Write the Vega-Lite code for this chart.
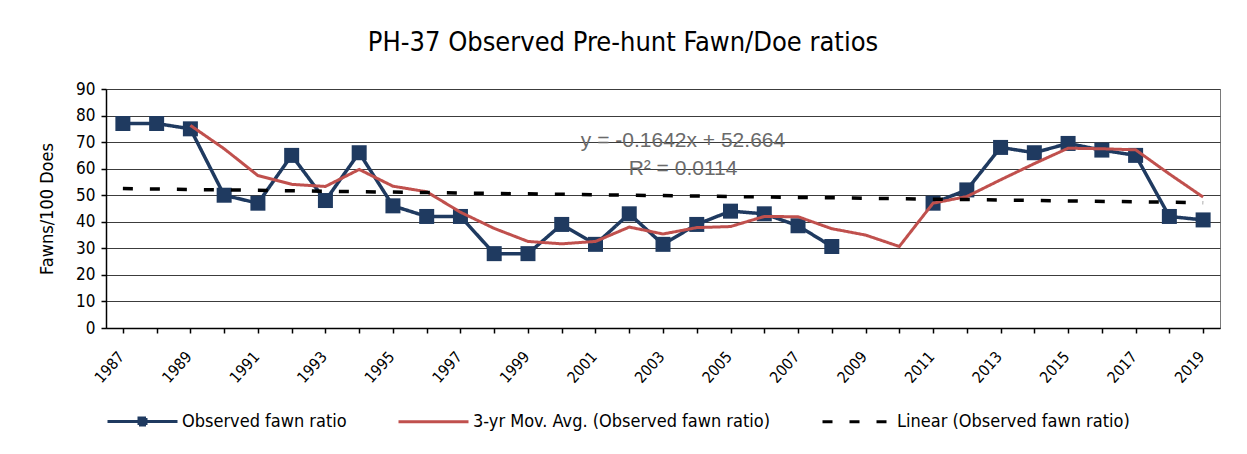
{
  "$schema": "https://vega.github.io/schema/vega-lite/v6.json",
  "width": 1114,
  "height": 239,
  "padding": {"left": 38, "top": 29, "right": 5, "bottom": 5},
  "background": "white",
  "title": {
    "text": "PH-37 Observed Pre-hunt Fawn/Doe ratios",
    "font": "DejaVu Sans Condensed, DejaVu Sans",
    "fontSize": 27,
    "fontWeight": "normal",
    "color": "black",
    "anchor": "middle",
    "frame": "group",
    "dx": -40,
    "offset": 23
  },
  "datasets": {
    "series": [
      {"year": 1987, "series": "Observed fawn ratio", "value": 77},
      {"year": 1988, "series": "Observed fawn ratio", "value": 77},
      {"year": 1989, "series": "Observed fawn ratio", "value": 75},
      {"year": 1990, "series": "Observed fawn ratio", "value": 50},
      {"year": 1991, "series": "Observed fawn ratio", "value": 47},
      {"year": 1992, "series": "Observed fawn ratio", "value": 65},
      {"year": 1993, "series": "Observed fawn ratio", "value": 48},
      {"year": 1994, "series": "Observed fawn ratio", "value": 66},
      {"year": 1995, "series": "Observed fawn ratio", "value": 46},
      {"year": 1996, "series": "Observed fawn ratio", "value": 42},
      {"year": 1997, "series": "Observed fawn ratio", "value": 42},
      {"year": 1998, "series": "Observed fawn ratio", "value": 28},
      {"year": 1999, "series": "Observed fawn ratio", "value": 28},
      {"year": 2000, "series": "Observed fawn ratio", "value": 39},
      {"year": 2001, "series": "Observed fawn ratio", "value": 31.5},
      {"year": 2002, "series": "Observed fawn ratio", "value": 43},
      {"year": 2003, "series": "Observed fawn ratio", "value": 31.5},
      {"year": 2004, "series": "Observed fawn ratio", "value": 39},
      {"year": 2005, "series": "Observed fawn ratio", "value": 44},
      {"year": 2006, "series": "Observed fawn ratio", "value": 43},
      {"year": 2007, "series": "Observed fawn ratio", "value": 38.5},
      {"year": 2008, "series": "Observed fawn ratio", "value": 30.7},
      {"year": 2009, "series": "Observed fawn ratio", "value": null},
      {"year": 2010, "series": "Observed fawn ratio", "value": null},
      {"year": 2011, "series": "Observed fawn ratio", "value": 47},
      {"year": 2012, "series": "Observed fawn ratio", "value": 52},
      {"year": 2013, "series": "Observed fawn ratio", "value": 68},
      {"year": 2014, "series": "Observed fawn ratio", "value": 66},
      {"year": 2015, "series": "Observed fawn ratio", "value": 69.5},
      {"year": 2016, "series": "Observed fawn ratio", "value": 67},
      {"year": 2017, "series": "Observed fawn ratio", "value": 65},
      {"year": 2018, "series": "Observed fawn ratio", "value": 42},
      {"year": 2019, "series": "Observed fawn ratio", "value": 40.7},
      {"year": 1989, "series": "3-yr Mov. Avg. (Observed fawn ratio)", "value": 76.3},
      {"year": 1990, "series": "3-yr Mov. Avg. (Observed fawn ratio)", "value": 67.5},
      {"year": 1991, "series": "3-yr Mov. Avg. (Observed fawn ratio)", "value": 57.4},
      {"year": 1992, "series": "3-yr Mov. Avg. (Observed fawn ratio)", "value": 54.1},
      {"year": 1993, "series": "3-yr Mov. Avg. (Observed fawn ratio)", "value": 53.3},
      {"year": 1994, "series": "3-yr Mov. Avg. (Observed fawn ratio)", "value": 59.7},
      {"year": 1995, "series": "3-yr Mov. Avg. (Observed fawn ratio)", "value": 53.4},
      {"year": 1996, "series": "3-yr Mov. Avg. (Observed fawn ratio)", "value": 51.3},
      {"year": 1997, "series": "3-yr Mov. Avg. (Observed fawn ratio)", "value": 43.6},
      {"year": 1998, "series": "3-yr Mov. Avg. (Observed fawn ratio)", "value": 37.5},
      {"year": 1999, "series": "3-yr Mov. Avg. (Observed fawn ratio)", "value": 32.6},
      {"year": 2000, "series": "3-yr Mov. Avg. (Observed fawn ratio)", "value": 31.7},
      {"year": 2001, "series": "3-yr Mov. Avg. (Observed fawn ratio)", "value": 32.6},
      {"year": 2002, "series": "3-yr Mov. Avg. (Observed fawn ratio)", "value": 38},
      {"year": 2003, "series": "3-yr Mov. Avg. (Observed fawn ratio)", "value": 35.4},
      {"year": 2004, "series": "3-yr Mov. Avg. (Observed fawn ratio)", "value": 37.8},
      {"year": 2005, "series": "3-yr Mov. Avg. (Observed fawn ratio)", "value": 38.2},
      {"year": 2006, "series": "3-yr Mov. Avg. (Observed fawn ratio)", "value": 42},
      {"year": 2007, "series": "3-yr Mov. Avg. (Observed fawn ratio)", "value": 41.9},
      {"year": 2008, "series": "3-yr Mov. Avg. (Observed fawn ratio)", "value": 37.4},
      {"year": 2009, "series": "3-yr Mov. Avg. (Observed fawn ratio)", "value": 35},
      {"year": 2010, "series": "3-yr Mov. Avg. (Observed fawn ratio)", "value": 30.7},
      {"year": 2011, "series": "3-yr Mov. Avg. (Observed fawn ratio)", "value": 47},
      {"year": 2012, "series": "3-yr Mov. Avg. (Observed fawn ratio)", "value": 49.5},
      {"year": 2013, "series": "3-yr Mov. Avg. (Observed fawn ratio)", "value": 55.8},
      {"year": 2014, "series": "3-yr Mov. Avg. (Observed fawn ratio)", "value": 61.9},
      {"year": 2015, "series": "3-yr Mov. Avg. (Observed fawn ratio)", "value": 67.7},
      {"year": 2016, "series": "3-yr Mov. Avg. (Observed fawn ratio)", "value": 67.5},
      {"year": 2017, "series": "3-yr Mov. Avg. (Observed fawn ratio)", "value": 67.1},
      {"year": 2018, "series": "3-yr Mov. Avg. (Observed fawn ratio)", "value": 58},
      {"year": 2019, "series": "3-yr Mov. Avg. (Observed fawn ratio)", "value": 49.3},
      {"year": 1987, "series": "Linear (Observed fawn ratio)", "value": 52.5},
      {"year": 2019, "series": "Linear (Observed fawn ratio)", "value": 47.2}
    ],
    "legendkeys": [
      {"year": 1987, "series": "Observed fawn ratio", "value": null},
      {"year": 1987, "series": "3-yr Mov. Avg. (Observed fawn ratio)", "value": null},
      {"year": 1987, "series": "Linear (Observed fawn ratio)", "value": null}
    ],
    "equation": [
      {"year": 2003, "value": 70.4, "label": "y = -0.1642x + 52.664"},
      {"year": 2003, "value": 60, "label": "R² = 0.0114"}
    ]
  },
  "encoding": {
    "x": {
      "field": "year",
      "type": "ordinal",
      "scale": {
        "domain": [1987,1988,1989,1990,1991,1992,1993,1994,1995,1996,1997,1998,1999,2000,2001,2002,2003,2004,2005,2006,2007,2008,2009,2010,2011,2012,2013,2014,2015,2016,2017,2018,2019],
        "paddingInner": 0,
        "paddingOuter": 0
      },
      "axis": {
        "title": null,
        "bandPosition": 0,
        "labelAngle": -48,
        "labelAlign": "right",
        "labelBaseline": "top",
        "labelOffset": -7,
        "labelPadding": 16,
        "labelExpr": "datum.value % 2 == 1 ? datum.label : ''",
        "labelFontSize": 15.5,
        "tickSize": 5,
        "grid": false
      }
    },
    "y": {
      "field": "value",
      "type": "quantitative",
      "scale": {"domain": [0, 90], "nice": false, "zero": true},
      "axis": {
        "title": "Fawns/100 Does",
        "values": [0,10,20,30,40,50,60,70,80,90],
        "labelFontSize": 17,
        "labelPadding": 6,
        "tickSize": 5,
        "titleFontSize": 18,
        "titleFontWeight": "normal",
        "titlePadding": 19,
        "grid": true
      }
    }
  },
  "layer": [
    {
      "data": {"name": "series"},
      "transform": [{"filter": "datum.series == 'Observed fawn ratio'"}],
      "mark": {
        "type": "line",
        "strokeWidth": 3.5,
        "point": {"shape": "square", "size": 225, "filled": true, "opacity": 1}
      },
      "encoding": {
        "color": {
          "field": "series",
          "type": "nominal",
          "scale": {
            "domain": ["Observed fawn ratio", "3-yr Mov. Avg. (Observed fawn ratio)", "Linear (Observed fawn ratio)"],
            "range": ["#1F3A60", "#C0504D", "#000000"]
          }
        },
        "strokeDash": {
          "field": "series",
          "type": "nominal",
          "scale": {
            "domain": ["Observed fawn ratio", "3-yr Mov. Avg. (Observed fawn ratio)", "Linear (Observed fawn ratio)"],
            "range": [[1, 0], [1, 0], [10, 17]]
          }
        }
      }
    },
    {
      "data": {"name": "series"},
      "transform": [{"filter": "datum.series == '3-yr Mov. Avg. (Observed fawn ratio)'"}],
      "mark": {"type": "line", "strokeWidth": 3},
      "encoding": {
        "color": {"field": "series", "type": "nominal"},
        "strokeDash": {"field": "series", "type": "nominal"}
      }
    },
    {
      "data": {"name": "series"},
      "transform": [{"filter": "datum.series == 'Linear (Observed fawn ratio)'"}],
      "mark": {"type": "line", "strokeWidth": 3.5},
      "encoding": {
        "color": {"field": "series", "type": "nominal"},
        "strokeDash": {"field": "series", "type": "nominal"}
      }
    },
    {
      "data": {"name": "legendkeys"},
      "mark": {"type": "point", "filled": false, "strokeWidth": 3},
      "encoding": {
        "color": {"field": "series", "type": "nominal"},
        "shape": {
          "field": "series",
          "type": "nominal",
          "scale": {
            "domain": ["Observed fawn ratio", "3-yr Mov. Avg. (Observed fawn ratio)", "Linear (Observed fawn ratio)"],
            "range": ["M-1,0H1M-0.1,-0.1H0.1V0.1H-0.1ZM-0.05,-0.05H0.05V0.05H-0.05Z", "M-1,0H1", "M-1,0H1"]
          }
        }
      }
    },
    {
      "data": {"name": "equation"},
      "mark": {"type": "text", "font": "Liberation Sans", "fontSize": 21, "color": "#6a6a6a", "dx": 20, "align": "center", "baseline": "middle"},
      "encoding": {"text": {"field": "label"}}
    }
  ],
  "config": {
    "font": "DejaVu Sans Condensed, DejaVu Sans",
    "view": {"stroke": "#7a7a7a", "strokeWidth": 1},
    "axis": {
      "labelFont": "DejaVu Sans Condensed, DejaVu Sans",
      "titleFont": "DejaVu Sans Condensed, DejaVu Sans",
      "labelColor": "black",
      "titleColor": "black",
      "domainColor": "black",
      "domainWidth": 1.5,
      "tickColor": "black",
      "tickWidth": 1.5,
      "gridColor": "#3c3c3c",
      "gridWidth": 1,
      "gridOpacity": 1
    },
    "legend": {
      "orient": "bottom",
      "direction": "horizontal",
      "title": null,
      "labelFont": "DejaVu Sans Condensed, DejaVu Sans",
      "labelFontSize": 18,
      "labelColor": "black",
      "labelLimit": 0,
      "symbolSize": 4900,
      "symbolStrokeWidth": 3,
      "columnPadding": 45,
      "labelOffset": 3,
      "offset": -1
    }
  }
}
